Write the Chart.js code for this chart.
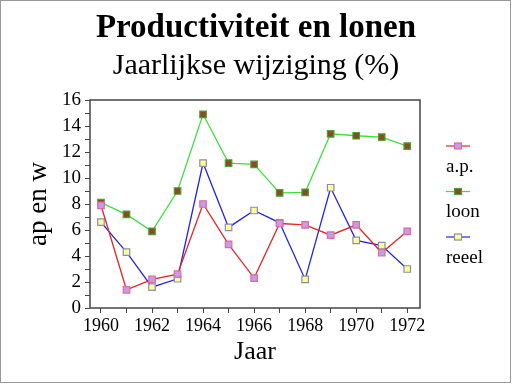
<!DOCTYPE html>
<html>
<head>
<meta charset="utf-8">
<script src="https://cdn.jsdelivr.net/npm/chart.js@4/dist/chart.umd.min.js"></script>
<style>
  html, body { margin: 0; padding: 0; background: #fff; }
  #wrap { width: 512px; height: 384px; position: relative; }
</style>
</head>
<body>
<div id="wrap"><canvas id="chart" width="512" height="384"></canvas></div>
<script>
// jaren en reeksen
const years = [1960, 1961, 1962, 1963, 1964, 1965, 1966, 1967, 1968, 1969, 1970, 1971, 1972];
const ap    = [7.9, 1.4, 2.2, 2.6, 8.0, 4.9, 2.3, 6.5, 6.4, 5.6, 6.4, 4.25, 5.9];
const loon  = [8.1, 7.2, 5.9, 9.0, 14.9, 11.15, 11.05, 8.85, 8.9, 13.4, 13.25, 13.15, 12.45];
const reeel = [6.6, 4.3, 1.6, 2.25, 11.15, 6.2, 7.5, 6.55, 2.2, 9.25, 5.2, 4.8, 3.0];
const yTicks = [0, 2, 4, 6, 8, 10, 12, 14, 16];

const serif = "'Liberation Serif', 'DejaVu Serif', serif";
const axisColor = '#444';

const toPoints = (vals) => vals.map((v, i) => ({ x: years[i], y: v }));

const series = [
  { label: 'a.p.', data: ap, line: '#e02828', fill: '#c89be8', edge: '#e06aa0' },
  { label: 'loon', data: loon, line: '#3ee03e', fill: '#8a4a28', edge: '#4aa030' },
  { label: 'reeel', data: reeel, line: '#2424e0', fill: '#ffff99', edge: '#8c8cb0' }
];

// titels, kader en legende zelf tekenen
const decorations = {
  id: 'decorations',
  afterDraw(chart) {
    const ctx = chart.ctx;
    const area = chart.chartArea;
    ctx.save();

    // buitenkader
    ctx.strokeStyle = '#999';
    ctx.lineWidth = 1;
    ctx.strokeRect(0.5, 0.5, 510, 382);

    // kader rond plotgebied
    ctx.strokeStyle = axisColor;
    ctx.lineWidth = 1.5;
    ctx.strokeRect(area.left, area.top, area.right - area.left, area.bottom - area.top);

    // titels
    ctx.fillStyle = '#000';
    ctx.textAlign = 'center';
    ctx.textBaseline = 'middle';
    ctx.font = `bold 33px ${serif}`;
    ctx.fillText('Productiviteit en lonen', 256, 28);
    ctx.font = `30px ${serif}`;
    ctx.fillText('Jaarlijkse wijziging (%)', 256, 66);

    // legende: symbool boven tekst
    const lx = 446, lw = 24;
    chart.data.datasets.forEach((ds, i) => {
      const sy = 146 + i * 45.5;
      ctx.strokeStyle = ds.borderColor;
      ctx.lineWidth = 1.2;
      ctx.beginPath();
      ctx.moveTo(lx, sy);
      ctx.lineTo(lx + lw, sy);
      ctx.stroke();
      ctx.fillStyle = ds.pointBackgroundColor;
      ctx.strokeStyle = ds.pointBorderColor;
      ctx.fillRect(lx + lw / 2 - 3.5, sy - 3, 7, 6);
      ctx.strokeRect(lx + lw / 2 - 3.5, sy - 3, 7, 6);
      ctx.fillStyle = '#000';
      ctx.textAlign = 'left';
      ctx.font = `19px ${serif}`;
      ctx.fillText(ds.label, lx, sy + 21);
    });

    ctx.restore();
  }
};

new Chart(document.getElementById('chart'), {
  type: 'line',
  data: {
    datasets: series.map((s) => ({
      label: s.label,
      data: toPoints(s.data),
      borderColor: s.line,
      borderWidth: 1.3,
      pointStyle: 'rect',
      pointRadius: 4.6,
      pointBackgroundColor: s.fill,
      pointBorderColor: s.edge,
      pointBorderWidth: 1.2,
      tension: 0
    }))
  },
  options: {
    responsive: false,
    animation: false,
    layout: { padding: { left: 18, right: 92, top: 100, bottom: 16 } },
    plugins: {
      legend: { display: false },
      title: { display: false },
      tooltip: { enabled: false }
    },
    scales: {
      x: {
        type: 'linear',
        min: 1959.57,
        max: 1972.5,
        afterBuildTicks: (scale) => {
          scale.ticks = years.map((y) => ({ value: y }));
        },
        afterFit: (scale) => { scale.height = 60; },
        grid: {
          drawOnChartArea: false,
          drawTicks: true,
          tickLength: 5,
          color: axisColor
        },
        border: { display: false },
        ticks: {
          autoSkip: false,
          maxRotation: 0,
          color: '#000',
          padding: 2,
          font: { family: serif, size: 18 },
          callback: (v) => (v % 2 === 0 ? String(v) : '')
        },
        title: {
          display: true,
          text: 'Jaar',
          color: '#000',
          padding: 0,
          font: { family: serif, size: 26 }
        }
      },
      y: {
        min: 0,
        max: 16,
        afterBuildTicks: (scale) => {
          const all = [];
          for (let v = 0; v <= 16; v++) all.push({ value: v });
          scale.ticks = all;
        },
        afterFit: (scale) => { scale.width = 72; },
        grid: {
          drawOnChartArea: false,
          drawTicks: true,
          tickLength: 5,
          color: axisColor
        },
        border: { display: false },
        ticks: {
          autoSkip: false,
          color: '#000',
          padding: 4,
          font: { family: serif, size: 19 },
          callback: (v) => (yTicks.includes(v) ? String(v) : '')
        },
        title: {
          display: true,
          text: 'ap en w',
          color: '#000',
          padding: 5,
          font: { family: serif, size: 27 }
        }
      }
    }
  },
  plugins: [decorations]
});
</script>
</body>
</html>
